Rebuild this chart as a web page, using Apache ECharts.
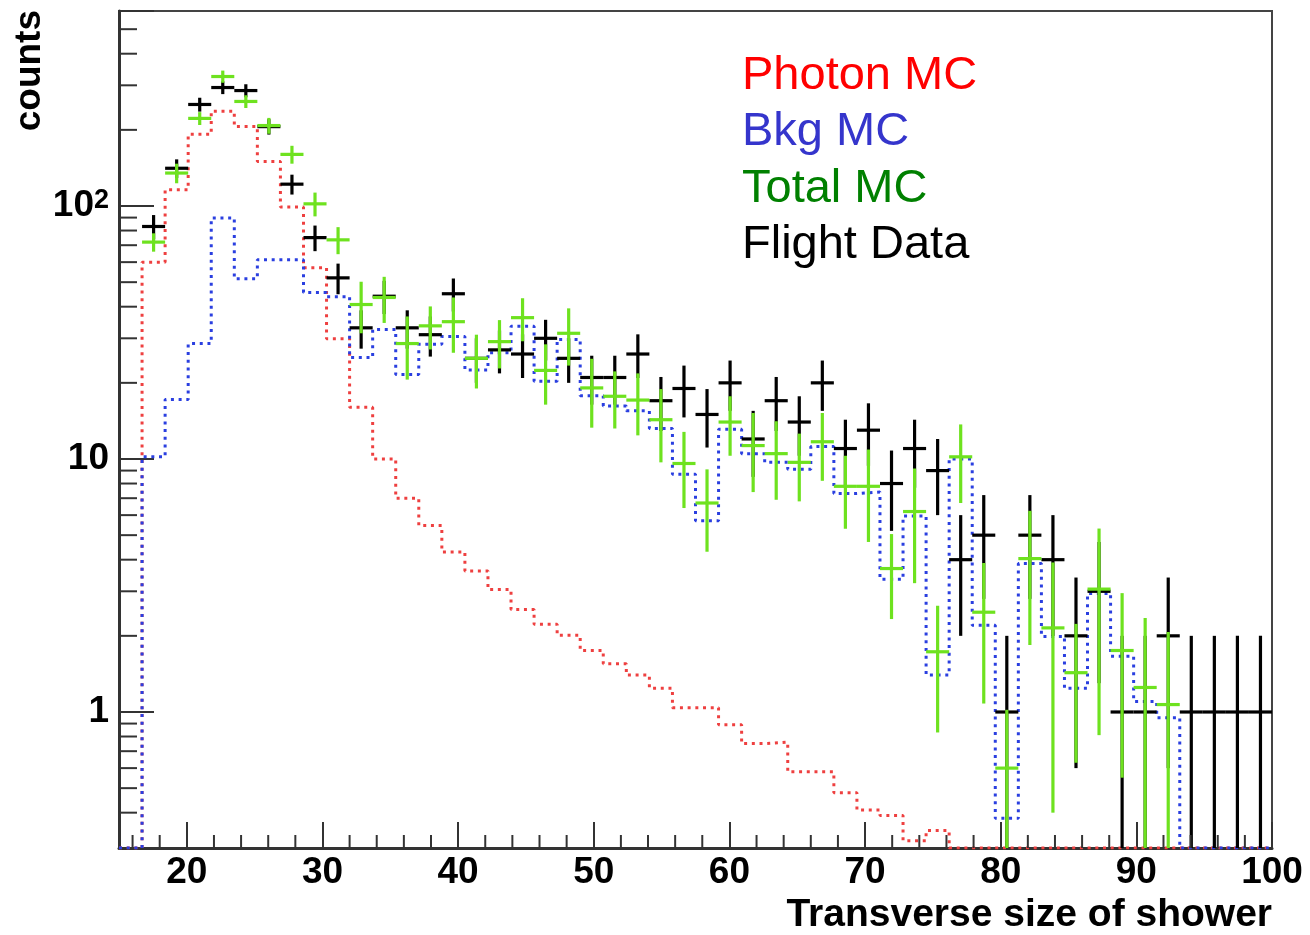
<!DOCTYPE html>
<html>
<head>
<meta charset="utf-8">
<script src="https://cdn.jsdelivr.net/npm/echarts@6/dist/echarts.min.js"></script>
<style>
html,body{margin:0;padding:0;background:#ffffff;}
#chart{width:1310px;height:935px;}
</style>
</head>
<body>
<div id="chart"></div>
<script>
// ---------------- data ----------------
const X_MIN = 15, X_MAX = 100;
const Y_MIN = 0.29, Y_MAX = 590;

// histogram bin edges (50 bins, 15 .. 100)
const binEdges = [15.0, 16.7, 18.4, 20.1, 21.8, 23.5, 25.2, 26.9, 28.6, 30.3, 32.0, 33.7, 35.4, 37.1, 38.8,
  40.5, 42.2, 43.9, 45.6, 47.3, 49.0, 50.7, 52.4, 54.1, 55.8, 57.5, 59.2, 60.9, 62.6, 64.3, 66.0,
  67.7, 69.4, 71.1, 72.8, 74.5, 76.2, 77.9, 79.6, 81.3, 83.0, 84.7, 86.4, 88.1, 89.8, 91.5, 93.2,
  94.9, 96.6, 98.3, 100.0];

// Photon MC (red dotted histogram)
const photonMC = [0, 60, 116, 192, 237, 206, 150, 99, 57, 29.9,
  16.0, 10.0, 7.0, 5.46, 4.29, 3.61, 3.05, 2.54, 2.22, 2.01,
  1.75, 1.55, 1.40, 1.24, 1.04, 1.04, 0.89, 0.75, 0.76, 0.58,
  0.58, 0.48, 0.41, 0.39, 0.31, 0.34, 0, 0, 0, 0,
  0, 0, 0, 0, 0, 0, 0, 0, 0, 0];

// Bkg MC (blue dotted histogram)
const bkgMC = [0, 10.2, 17.2, 28.6, 89.7, 51.6, 61.3, 61.3, 45.5, 43.8,
  25.2, 32.5, 21.6, 28.4, 30.5, 22.5, 26.3, 33.5, 20.3, 29.7,
  17.8, 16.2, 15.5, 13.2, 8.7, 5.7, 13.1, 10.5, 9.7, 9.1,
  11.2, 7.3, 7.4, 3.35, 5.95, 1.4, 10.0, 2.2, 0.38, 3.86,
  1.99, 1.24, 2.94, 1.66, 1.1, 0.95, 0, 0, 0, 0];

// Total MC (green points with error bars)
const totalMC = [null, 72, 135, 222, 325, 259, 208, 160, 102, 73.5,
  40.8, 43.5, 28.6, 33.6, 34.9, 25, 29.1, 36.2, 22.4, 31.4,
  19.1, 17.7, 17.1, 14.3, 9.6, 6.7, 14.0, 11.3, 10.5, 9.7,
  11.7, 7.8, 7.8, 3.69, 6.2, 1.73, 10.2, 2.48, 0.60, 4.04,
  2.15, 1.43, 3.06, 1.75, 1.25, 1.07, null, null, null, null];
const totalMCErr = [0, 6, 12, 13, 18, 15, 15, 13, 11, 9,
  9.4, 9, 8, 6.5, 8.6, 6, 6.3, 7, 6, 8,
  5.8, 4.5, 4.7, 4.6, 3.2, 2.4, 3.7, 3.9, 3.6, 2.9,
  3.5, 2.5, 3.1, 1.36, 2.97, 0.9, 3.5, 1.4, 0.42, 2.2,
  1.75, 0.8, 2.25, 1.2, 1.1, 1.0, 0, 0, 0, 0];

// Flight Data (black points with error bars)
const flightData = [null, 83, 141, 252, 294, 286, 206, 122, 75, 52,
  33, 44, 33, 31, 45, 25, 27, 26, 30, 25,
  21, 21, 26, 17, 19, 15, 20, 12, 17, 14,
  20, 11, 13, 8, 11, 9, 4, 5, 1, 5,
  4, 2, 3, 1, 1, 2, 1, 1, 1, 1];
const flightDataErr = [0, 9.1, 11.9, 15.9, 17.1, 16.9, 14.4, 11.0, 8.7, 7.2,
  5.7, 6.6, 5.7, 5.6, 6.7, 5.0, 5.2, 5.1, 5.5, 5.0,
  4.6, 4.6, 5.1, 4.1, 4.4, 3.9, 4.5, 3.5, 4.1, 3.7,
  4.5, 3.3, 3.6, 2.8, 3.3, 3.0, 2.0, 2.2, 1.0, 2.2,
  2.0, 1.4, 1.7, 1.0, 1.0, 1.4, 1.0, 1.0, 1.0, 1.0];

// axis ticks and labels
const xLabelValues = [20, 30, 40, 50, 60, 70, 80, 90, 100];
const xMinorTicks = [16, 18, 22, 24, 26, 28, 32, 34, 36, 38, 42, 44, 46, 48, 52, 54, 56, 58,
  62, 64, 66, 68, 72, 74, 76, 78, 82, 84, 86, 88, 92, 94, 96, 98];
const yMinorTicks = [0.4, 0.5, 0.6, 0.7, 0.8, 0.9, 2, 3, 4, 5, 6, 7, 8, 9,
  20, 30, 40, 50, 60, 70, 80, 90, 200, 300, 400, 500];

const legendEntries = [
  { text: 'Photon MC', color: '#ff0000' },
  { text: 'Bkg MC', color: '#3535cc' },
  { text: 'Total MC', color: '#008000' },
  { text: 'Flight Data', color: '#000000' }
];
const xTitle = 'Transverse size of shower';
const yTitle = 'counts';

// ---------------- build ----------------
const FONT = '"Liberation Sans", Arial, Helvetica, sans-serif';
const AXIS_COLOR = '#333333';

function stepData(values) {
  const pts = [];
  for (let i = 0; i < values.length; i++) {
    pts.push([binEdges[i], Math.max(values[i], Y_MIN)]);
  }
  pts.push([binEdges[values.length], Math.max(values[values.length - 1], Y_MIN)]);
  return pts;
}

function histSeries(name, values, color, z) {
  return {
    type: 'line', name: name, data: stepData(values), step: 'end',
    showSymbol: false, symbol: 'none', silent: true, z: z, clip: true,
    lineStyle: { color: color, width: 3, type: [3, 4.7], cap: 'butt' }
  };
}

function errorSeries(name, values, errs, color, z) {
  const data = [];
  for (let i = 0; i < values.length; i++) {
    const v = values[i];
    if (v == null || !(v > 0)) continue;
    data.push([(binEdges[i] + binEdges[i + 1]) / 2, v, errs[i], binEdges[i], binEdges[i + 1]]);
  }
  return {
    type: 'custom', name: name, data: data, z: z, clip: true, silent: true,
    encode: { x: 0, y: 1 },
    renderItem: function (params, api) {
      const xc = api.value(0), v = api.value(1), e = api.value(2);
      const xl = api.value(3), xh = api.value(4);
      const c = api.coord([xc, v]);
      const l = api.coord([xl, v]);
      const h = api.coord([xh, v]);
      const top = api.coord([xc, v + e]);
      const lowVal = v - e;
      const bottomY = lowVal > 0 ? api.coord([xc, lowVal])[1]
        : params.coordSys.y + params.coordSys.height + 4;
      const st = { stroke: color, lineWidth: 3.2 };
      return {
        type: 'group',
        children: [
          { type: 'line', shape: { x1: l[0], y1: c[1], x2: h[0], y2: c[1] }, style: st },
          { type: 'line', shape: { x1: c[0], y1: top[1], x2: c[0], y2: bottomY }, style: st }
        ]
      };
    }
  };
}

function minorTickSeries(points, dir, len) {
  return {
    type: 'custom', data: points, z: 5, clip: false, silent: true,
    encode: { x: 0, y: 1 },
    renderItem: function (params, api) {
      const p = api.coord([api.value(0), api.value(1)]);
      const shape = dir === 'x'
        ? { x1: p[0], y1: p[1], x2: p[0], y2: p[1] - len }
        : { x1: p[0], y1: p[1], x2: p[0] + len, y2: p[1] };
      return { type: 'line', shape: shape, style: { stroke: AXIS_COLOR, lineWidth: 2 } };
    }
  };
}

function isPow10(v) {
  const l = Math.log10(v);
  return Math.abs(l - Math.round(l)) < 1e-6;
}

const chart = echarts.init(document.getElementById('chart'), null, { renderer: 'canvas' });

const graphics = [];
legendEntries.forEach(function (en, i) {
  graphics.push({
    type: 'text', x: 742, y: 76 + i * 56.3, silent: true,
    style: { text: en.text, fill: en.color, font: '47px ' + FONT,
      align: 'left', verticalAlign: 'middle', textAlign: 'left', textVerticalAlign: 'middle' }
  });
});
graphics.push({
  type: 'text', x: 1272, y: 915, silent: true,
  style: { text: xTitle, fill: '#000', font: 'bold 39px ' + FONT,
    align: 'right', verticalAlign: 'middle', textAlign: 'right', textVerticalAlign: 'middle' }
});
graphics.push({
  type: 'text', x: 30, y: 10, rotation: Math.PI / 2, silent: true,
  style: { text: yTitle, fill: '#000', font: 'bold 37px ' + FONT,
    align: 'right', verticalAlign: 'middle', textAlign: 'right', textVerticalAlign: 'middle' }
});

const option = {
  animation: false,
  backgroundColor: '#ffffff',
  grid: {
    left: 119, right: 38, top: 11, bottom: 87,
    show: true, borderColor: '#444444', borderWidth: 2, backgroundColor: 'transparent',
    containLabel: false, outerBoundsMode: 'none'
  },
  xAxis: {
    type: 'value', min: X_MIN, max: X_MAX, splitNumber: 8,
    axisLine: { show: true, onZero: false, lineStyle: { color: AXIS_COLOR, width: 3 } },
    axisTick: { show: true, inside: true, length: 26, lineStyle: { color: AXIS_COLOR, width: 2 } },
    splitLine: { show: false },
    axisLabel: {
      show: true, margin: 6, color: '#000', fontSize: 37, fontWeight: 'bold', fontFamily: FONT,
      formatter: function (v) { return xLabelValues.indexOf(Math.round(v)) >= 0 && Math.abs(v - Math.round(v)) < 1e-6 ? String(Math.round(v)) : ''; }
    }
  },
  yAxis: {
    type: 'log', logBase: 10, min: Y_MIN, max: Y_MAX,
    axisLine: { show: true, onZero: false, lineStyle: { color: AXIS_COLOR, width: 3 } },
    axisTick: { show: true, inside: true, length: 35, lineStyle: { color: AXIS_COLOR, width: 2 } },
    splitLine: { show: false },
    axisLabel: {
      show: true, margin: 10, color: '#000', fontSize: 37, fontWeight: 'bold', fontFamily: FONT,
      formatter: function (v) {
        if (!isPow10(v)) return '';
        const p = Math.round(Math.log10(v));
        if (p === 0) return '1';
        if (p === 1) return '10';
        return '{b|10}{s|' + p + '}';
      },
      rich: {
        b: { fontSize: 37, fontWeight: 'bold', fontFamily: FONT, color: '#000' },
        s: { fontSize: 27, fontWeight: 'bold', fontFamily: FONT, color: '#000', verticalAlign: 'top' }
      }
    }
  },
  series: [
    histSeries('Photon MC', photonMC, '#ee4040', 2),
    histSeries('Bkg MC', bkgMC, '#2a3fe0', 3),
    errorSeries('Flight Data', flightData, flightDataErr, '#000000', 4),
    errorSeries('Total MC', totalMC, totalMCErr, '#6ee21f', 5),
    minorTickSeries(xMinorTicks.map(function (v) { return [v, Y_MIN]; }), 'x', 13),
    minorTickSeries(yMinorTicks.map(function (v) { return [X_MIN, v]; }), 'y', 18)
  ],
  graphic: graphics
};
chart.setOption(option);
</script>
</body>
</html>
